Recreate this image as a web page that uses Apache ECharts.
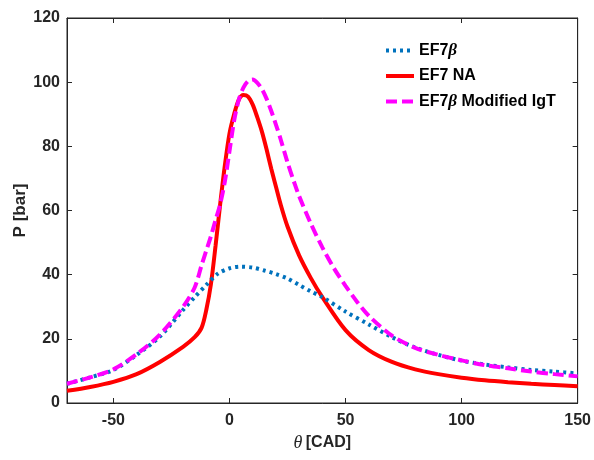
<!DOCTYPE html>
<html>
<head>
<meta charset="utf-8">
<script src="https://cdn.jsdelivr.net/npm/echarts@6/dist/echarts.min.js"></script>
<style>html,body{margin:0;padding:0;background:#fff}#c{width:594px;height:460px}</style>
</head>
<body>
<div id="c"></div>
<script>
// Crank angle grids (deg CAD) and pressure values (bar)
const thetaBlue = [-70,-60,-50,-40,-30,-20,-15,-10,-5,0,5,10,15,20,25,30,35,40,50,60,70,80,90,100,110,120,130,140,150];
const pBlue =     [6,8,10.3,15,20.7,29,33,36.8,40.3,42,42.5,42.2,41.3,40.2,38.8,36.8,34.8,33,28.5,24.5,20.5,17.3,15,13.2,12,11.1,10.3,9.8,9.2];

const thetaRed = [-70,-60,-50,-40,-30,-20,-15,-12,-10,-8,-6,-4,-2,0,2,4,6,8,10,12,14,16,18,20,22,25,30,35,40,50,60,70,80,90,100,110,120,130,140,150];
const pRed =     [3.8,5,6.6,9,12.8,17.5,20.5,23.5,29,37,49,62,74,84,90,94.5,96,95.5,93,89,84.5,79,73,67.5,62,55,46,39,33,22.7,16.5,12.8,10.5,9,7.9,7.1,6.5,6,5.6,5.2];

const thetaMag = [-70,-60,-50,-40,-30,-20,-15,-12,-10,-8,-6,-4,-2,0,2,4,6,8,10,12,14,16,18,20,22,25,28,30,35,40,45,50,55,60,70,80,90,100,110,120,130,140,150];
const pMag =     [6,8,10.5,15.2,21.3,30,36,43,47.5,52,57,62,69,78.5,88,94.5,98.3,100.3,100.8,99.8,97.8,94.8,91,86.8,82.3,75,68.5,64.5,56,48.5,42,36.5,31.5,27.2,21,17.2,15,13.3,11.8,10.8,9.8,9,8.3];

const xTicks = [-50,0,50,100,150];
const yTicks = [0,20,40,60,80,100,120];

const zip = (xs, ys) => xs.map((x, i) => [x, ys[i]]);

const axisCol = '#262626';
const sans = 'Liberation Sans, Arial, sans-serif';
const labelFont = {fontFamily: sans, fontWeight: 'bold', fontSize: 16, color: axisCol};

const chart = echarts.init(document.getElementById('c'), null, {renderer: 'canvas'});
chart.setOption({
  animation: false,
  backgroundColor: '#fff',
  grid: {left: 67, right: 14, top: 18, bottom: 57, show: true, borderColor: axisCol, borderWidth: 1, containLabel: false},
  legend: {
    left: 379, top: 37, orient: 'vertical', itemGap: 9, itemWidth: 28, itemHeight: 14,
    itemStyle: {opacity: 0},
    lineStyle: {width: 4},
    textStyle: {
      fontFamily: sans, fontWeight: 'bold', fontSize: 16, color: '#000',
      rich: {
        n: {fontFamily: sans, fontWeight: 'bold', fontSize: 16, color: '#000'},
        b: {fontFamily: 'Liberation Serif, Times New Roman, serif', fontStyle: 'italic', fontSize: 17, color: '#000'}
      }
    },
    formatter: function (name) {
      if (name === 'EF7β') return '{n|EF7}{b|β}';
      if (name === 'EF7β Modified IgT') return '{n|EF7}{b|β}{n| Modified IgT}';
      return '{n|' + name + '}';
    },
    data: ['EF7β', 'EF7 NA', 'EF7β Modified IgT']
  },
  xAxis: [{
    type: 'value', min: -70, max: 150,
    name: '{t|θ} {n|[CAD]}', nameLocation: 'middle', nameGap: 29,
    nameTextStyle: {rich: {
      t: {fontFamily: 'Liberation Serif, serif', fontStyle: 'italic', fontSize: 18, color: axisCol},
      n: {fontFamily: sans, fontWeight: 'bold', fontSize: 16, color: axisCol}
    }},
    axisLine: {show: true, onZero: false, lineStyle: {color: axisCol}},
    axisTick: {show: true, inside: true, length: 5, customValues: xTicks, lineStyle: {color: axisCol}},
    axisLabel: Object.assign({customValues: xTicks, margin: 10}, labelFont),
    splitLine: {show: false}
  }, {
    type: 'value', min: -70, max: 150, position: 'top',
    axisLine: {show: true, onZero: false, lineStyle: {color: axisCol}},
    axisTick: {show: true, inside: true, length: 5, customValues: xTicks, lineStyle: {color: axisCol}},
    axisLabel: {show: false}, splitLine: {show: false}
  }],
  yAxis: [{
    type: 'value', min: 0, max: 120, interval: 20,
    name: 'P [bar]', nameLocation: 'middle', nameGap: 38, nameMoveOverlap: false,
    nameTextStyle: {fontFamily: sans, fontWeight: 'bold', fontSize: 17, color: axisCol},
    axisLine: {show: true, onZero: false, lineStyle: {color: axisCol}},
    axisTick: {show: true, inside: true, length: 5, lineStyle: {color: axisCol}},
    axisLabel: Object.assign({margin: 7}, labelFont),
    splitLine: {show: false}
  }, {
    type: 'value', min: 0, max: 120, interval: 20, position: 'right',
    axisLine: {show: true, onZero: false, lineStyle: {color: axisCol}},
    axisTick: {show: true, inside: true, length: 5, lineStyle: {color: axisCol}},
    axisLabel: {show: false}, splitLine: {show: false}
  }],
  series: [{
    name: 'EF7β', type: 'line', data: zip(thetaBlue, pBlue), smooth: 0.3, symbol: 'none',
    lineStyle: {color: '#0072BD', width: 4, type: [3, 4]}, itemStyle: {color: '#0072BD'}, z: 3
  }, {
    name: 'EF7 NA', type: 'line', data: zip(thetaRed, pRed), smooth: 0.3, symbol: 'none',
    lineStyle: {color: '#FF0000', width: 4, type: 'solid'}, itemStyle: {color: '#FF0000'}, z: 2
  }, {
    name: 'EF7β Modified IgT', type: 'line', data: zip(thetaMag, pMag), smooth: 0.3, symbol: 'none',
    lineStyle: {color: '#FF00FF', width: 4, type: [11, 5]}, itemStyle: {color: '#FF00FF'}, z: 4
  }]
});
</script>
</body>
</html>
